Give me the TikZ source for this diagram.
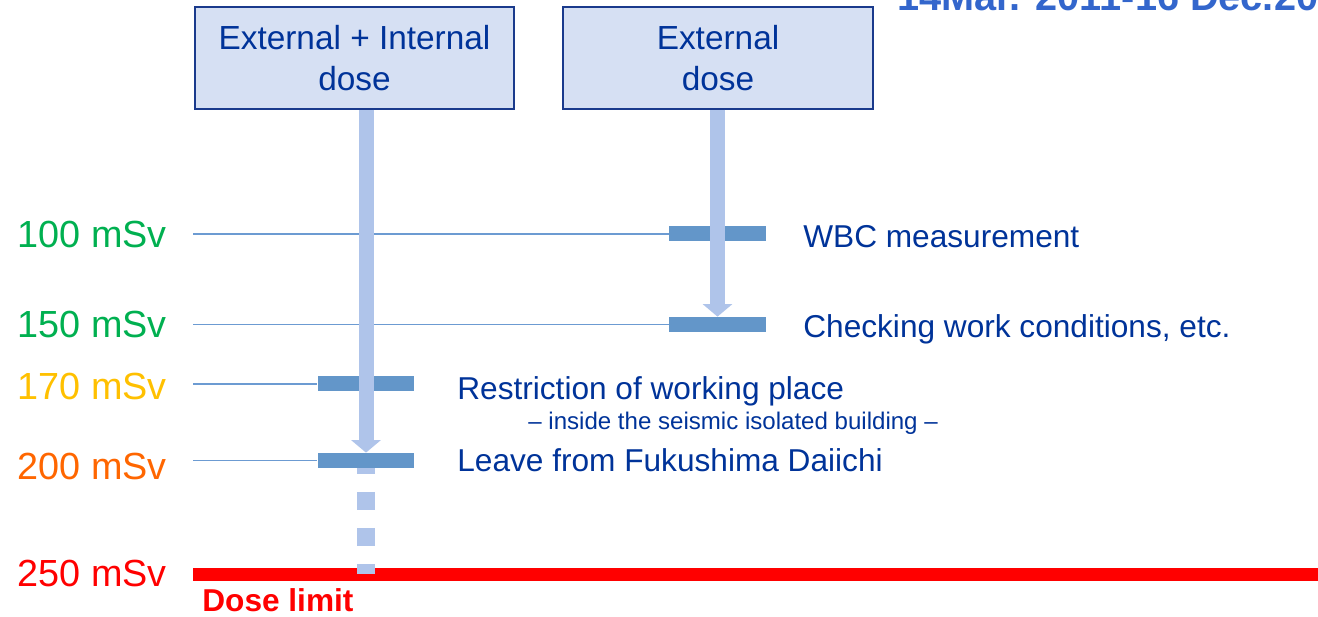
\documentclass[tikz,border=0pt]{standalone}
\usepackage{fontspec}
\setmainfont{Liberation Sans}
\usepackage{tikz}
\usetikzlibrary{arrows.meta}
\definecolor{dosenavy}{HTML}{1A3A8C}
\definecolor{dosefill}{HTML}{D6E0F3}
\definecolor{dosetext}{HTML}{003399}
\definecolor{flowblue}{HTML}{AFC4EA}
\definecolor{barblue}{HTML}{6396C9}
\definecolor{lineblue}{HTML}{6C9BD2}
\definecolor{titleblue}{HTML}{3366CC}
\definecolor{lvgreen}{HTML}{00B050}
\definecolor{lvyellow}{HTML}{FFC000}
\definecolor{lvorange}{HTML}{FF6600}
\definecolor{lvred}{HTML}{FF0000}
\tikzset{
    dosebox/.style={
           rectangle,
           draw=dosenavy, line width=1.1pt,
           fill=dosefill,
           inner sep=0pt,
           align=center,
           text=dosetext,
           font=\fontsize{19}{23.8}\selectfont,
           },
}
\tikzset{
    bar/.style={
           rectangle,
           fill=barblue,
           inner sep=0pt,
           minimum width=1.94cm,
           minimum height=0.3cm,
           },
}
\tikzset{
    level/.style={
           draw=lineblue, line width=0.8pt,
           },
}
\tikzset{
    flow/.style={
           draw=flowblue, line width=0.3cm,
           -{Triangle[length=0.25cm,width=0.58cm]},
           },
}
\tikzset{
    doselbl/.style={
           anchor=base east,
           inner sep=0pt,
           font=\fontsize{21.5}{24}\selectfont,
           },
}
\tikzset{
    event/.style={
           anchor=base west,
           inner sep=0pt,
           text=dosetext,
           font=\fontsize{18}{21}\selectfont,
           },
}

\begin{document}
\begin{tikzpicture}[x=0.02cm,y=-0.02cm]
\useasboundingbox (0,0) rectangle (1318,617);
% period
\node[anchor=base west,inner sep=0pt,text=titleblue,font=\fontsize{22.6}{26}\bfseries](period) at (897,10.5){14Mar. 2011-16 Dec.2011};
% dose boxes
\node[dosebox,minimum width=6.38cm,minimum height=2.04cm](both) at (354.5,58){External + Internal\\dose};
\node[dosebox,minimum width=6.2cm,minimum height=2.04cm](ext) at (718,58){External\\dose};
% levels
\node[doselbl,text=lvgreen](m100) at (167,248){100 mSv};
\node[doselbl,text=lvgreen](m150) at (167,338){150 mSv};
\node[doselbl,text=lvyellow](m170) at (167,400){170 mSv};
\node[doselbl,text=lvorange](m200) at (167,480){200 mSv};
\node[doselbl,text=lvred](m250) at (167,587){250 mSv};
\coordinate (s100) at (193,234);
\coordinate (s150) at (193,324.5);
\coordinate (s170) at (193,384);
\coordinate (s200) at (193,460.5);
% dose limit
\node[rectangle,fill=lvred,inner sep=0pt,minimum width=22.5cm,minimum height=0.26cm](limit) at (755.5,574.5){};
\node[anchor=base west,inner sep=0pt,text=lvred,font=\fontsize{18}{21}\bfseries](limitlbl) at (202,612){Dose limit};
\draw[draw=flowblue,line width=0.36cm,dash pattern=on 0.36cm off 0.36cm,shorten <=0.06cm] (366,453) -- (366,574.5);
% bars
\node[bar](bar100) at (717.5,234){};
\node[bar](bar150) at (717.5,324.5){};
\node[bar](bar170) at (366,384){};
\node[bar](bar200) at (366,460.5){};
\draw[level] (s100) -- (bar100.west);
\draw[level] (s150) -- (bar150.west);
\draw[level] (s170) -- (bar170.west);
\draw[level] (s200) -- (bar200.west);
% arrows
\draw[flow] (bar150 |- ext.south) -- (bar150.north);
\draw[flow] (bar200 |- both.south) -- (bar200.north);
% actions
\node[event](e100) at (803,248){WBC measurement};
\node[event](e150) at (803,338){Checking work conditions, etc.};
\node[event](e170) at (457,400){Restriction of working place};
\node[event,font=\fontsize{13.7}{16}\selectfont](e170b) at (528,430){– inside the seismic isolated building –};
\node[event](e200) at (457,472){Leave from Fukushima Daiichi};
\end{tikzpicture}
\end{document}
